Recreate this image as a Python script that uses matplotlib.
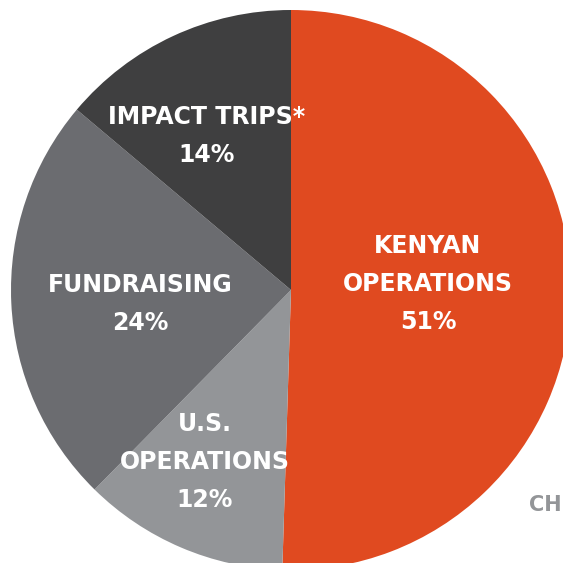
import matplotlib.pyplot as plt

labels = ["KENYAN\nOPERATIONS\n51%", "U.S.\nOPERATIONS\n12%", "FUNDRAISING\n24%", "IMPACT TRIPS*\n14%"]
shares = [51, 12, 24, 14]
colors = ["#E04A20", "#939598", "#6B6C70", "#3F3F40"]
# label centres in image pixels (x, y from top)
label_pos = [(428, 284), (205, 462), (140, 304), (207, 136)]

W = H = 563
fig = plt.figure(figsize=(5.63, 5.63), dpi=100)
ax = fig.add_axes([0, 0, 1, 1])

ax.pie(shares, colors=colors, startangle=90, counterclock=False,
       center=(291, H - 290), radius=280, wedgeprops=dict(linewidth=0))

for lab, (x, y) in zip(labels, label_pos):
    ax.text(x, H - y, lab, color="white", fontsize=17, fontweight="bold",
            family="DejaVu Sans", ha="center", va="center",
            multialignment="center", linespacing=1.72)

ax.text(562, H - 505, "CH", color="#939598", fontsize=15, fontweight="bold",
        ha="right", va="center")

ax.set_xlim(0, W)
ax.set_ylim(0, H)
ax.set_aspect("equal")
ax.axis("off")
fig.savefig("out.png", dpi=100)
